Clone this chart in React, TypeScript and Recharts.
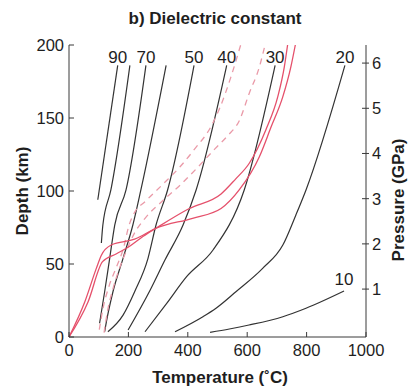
import React from "react";
import { LineChart, Line, XAxis, YAxis } from "recharts";

// ---- axis ticks ----
const tempTicks = [0, 200, 400, 600, 800, 1000];
const depthTicks = [0, 50, 100, 150, 200];
const pressureTicks = [1, 2, 3, 4, 5, 6];
const pressureDomain = [-0.06, 6.4];

// ---- dielectric-constant contours: [Temperature °C, Depth km] ----
const c90 = [[97, 94], [164, 186]];
const c80 = [[109, 64.4], [114, 76.7], [141, 100.7], [205, 186]];
const c70 = [[103, 9.4], [120, 31], [137, 53.9], [154, 76.7], [192, 100.7], [259, 186]];
const c60 = [[120, 3.6], [126, 10.5], [148, 31], [182, 53.9], [215, 76.7], [242, 100.7], [327, 186]];
const c50 = [[131, 3.6], [182, 15], [221, 31], [266, 53.9], [293, 76.7], [332, 100.7], [421, 186]];
const c40 = [[199, 4.8], [273, 32], [323, 52.7], [384, 76.7], [428, 100.7], [531, 186]];
const c30 = [[256, 3.6], [329, 23], [396, 41.3], [485, 59.6], [590, 100.7], [694, 186]];
const c20 = [[357, 3.6], [451, 13.9], [495, 19.7], [562, 31], [652, 47], [720, 63], [764, 83.6], [798, 100.7], [929, 186]];
const c10 = [[475, 3.2], [540, 5.5], [606, 8.2], [720, 13.9], [798, 19.7], [926, 31.5]];

const contourLevels = ["90", "80", "70", "60", "50", "40", "30", "20", "10"];
const labelledLevels = ["90", "70", "50", "40", "30", "20", "10"];

// ---- geotherms (red solid) ----
const geothermA = [[0, 0], [53, 24], [92, 47], [109, 56], [142, 63], [221, 67], [293, 74.5], [416, 81.3], [512, 88], [573, 100.7], [641, 123.5], [680, 143.6], [720, 164.6], [747, 185], [762, 200]];
const geothermB = [[0, 0], [64, 24], [113, 51.6], [160, 57], [203, 62], [250, 69], [293, 74.5], [405, 88], [512, 98], [560, 108], [607, 119], [663, 142], [703, 164.6], [725, 185], [736, 200]];

// ---- geotherms (red dashed) ----
const dashedC = [[102, 5], [115, 20], [135, 35], [160, 48], [185, 62], [200, 75], [220, 85], [256, 92.7], [318, 105], [374, 116.6], [424, 129], [475, 143], [508, 157], [545, 178], [578, 200]];
const dashedD = [[118, 3], [130, 18], [148, 33], [170, 47], [195, 60], [220, 71], [256, 81.3], [312, 92.7], [374, 104], [435, 116.6], [492, 129], [535, 138], [573, 148], [607, 167], [641, 185], [660, 200]];

const contours = [c90, c80, c70, c60, c50, c40, c30, c20, c10];

const toData = (pts: number[][]) => pts.map(([T, D]) => ({ T, D }));

const FONT = "'Liberation Sans', Arial, Helvetica, sans-serif";
const AXIS = "#3a3a3a";
const TEXT = "#1e1e1e";
const PLOT = { left: 69, right: 366, top: 45, bottom: 337 };

function BottomTick(props: any) {
  const { x, payload } = props;
  return (
    <g>
      <line x1={x} x2={x} y1={PLOT.bottom} y2={PLOT.bottom - 5} stroke={AXIS} strokeWidth={1} />
      <text x={x} y={PLOT.bottom + 19} textAnchor="middle" fontSize={16.5} fill={TEXT} fontFamily={FONT}>
        {payload.value}
      </text>
    </g>
  );
}

function LeftTick(props: any) {
  const { y, payload } = props;
  return (
    <g>
      <line x1={PLOT.left} x2={PLOT.left + 5} y1={y} y2={y} stroke={AXIS} strokeWidth={1} />
      <text x={PLOT.left - 5} y={y + 6} textAnchor="end" fontSize={16.5} fill={TEXT} fontFamily={FONT}>
        {payload.value}
      </text>
    </g>
  );
}

function RightTick(props: any) {
  const { y, payload } = props;
  return (
    <g>
      <line x1={PLOT.right - 4} x2={PLOT.right + 3} y1={y} y2={y} stroke={AXIS} strokeWidth={1} />
      <text x={PLOT.right + 6} y={y + 6} textAnchor="start" fontSize={16.5} fill={TEXT} fontFamily={FONT}>
        {payload.value}
      </text>
    </g>
  );
}

const makeLabel = (text: string, idx: number, dy: number) => (p: any) => {
  if (p.index !== idx) return <g key={`l-${text}-${p.index}`} />;
  return (
    <text key={`l-${text}`} x={p.x} y={p.y + dy} textAnchor="middle" fontSize={17} fill={TEXT} fontFamily={FONT}>
      {text}
    </text>
  );
};

export default function App() {
  return (
    <div style={{ position: "absolute", left: 0, top: 0, width: 414, height: 391, background: "#fff" }}>
      <LineChart width={414} height={391} margin={{ top: PLOT.top, right: 0, bottom: 0, left: 0 }}>
        <XAxis
          dataKey="T"
          type="number"
          domain={[0, 1000]}
          ticks={tempTicks}
          interval={0}
          height={391 - PLOT.bottom}
          tickLine={false}
          axisLine={{ stroke: AXIS, strokeWidth: 1 }}
          tick={<BottomTick />}
        />
        <XAxis
          xAxisId="top"
          orientation="top"
          type="number"
          domain={[0, 1000]}
          height={0}
          tick={false}
          tickLine={false}
          axisLine={{ stroke: AXIS, strokeWidth: 1 }}
        />
        <YAxis
          yAxisId="d"
          type="number"
          domain={[0, 200]}
          ticks={depthTicks}
          interval={0}
          width={PLOT.left}
          tickLine={false}
          axisLine={{ stroke: AXIS, strokeWidth: 1 }}
          tick={<LeftTick />}
        />
        <YAxis
          yAxisId="p"
          orientation="right"
          type="number"
          domain={pressureDomain}
          allowDataOverflow
          ticks={pressureTicks}
          interval={0}
          width={414 - PLOT.right}
          tickLine={false}
          axisLine={{ stroke: AXIS, strokeWidth: 1 }}
          tick={<RightTick />}
        />
        {contours.map((c, i) => {
          const lvl = contourLevels[i];
          const labelled = labelledLevels.includes(lvl);
          const isTen = lvl === "10";
          return (
            <Line
              key={`c${lvl}`}
              yAxisId="d"
              data={toData(c)}
              dataKey="D"
              type="monotone"
              stroke="#333333"
              strokeWidth={1.2}
              dot={false}
              activeDot={false}
              isAnimationActive={false}
              label={labelled ? makeLabel(lvl, c.length - 1, isTen ? -6 : -2) : false}
            />
          );
        })}
        <Line yAxisId="d" data={toData(dashedC)} dataKey="D" type="monotone" stroke="#ea9aa8" strokeWidth={1.3} strokeDasharray="6 5" dot={false} activeDot={false} isAnimationActive={false} />
        <Line yAxisId="d" data={toData(dashedD)} dataKey="D" type="monotone" stroke="#ea9aa8" strokeWidth={1.3} strokeDasharray="6 5" dot={false} activeDot={false} isAnimationActive={false} />
        <Line yAxisId="d" data={toData(geothermA)} dataKey="D" type="monotone" stroke="#e5506b" strokeWidth={1.3} dot={false} activeDot={false} isAnimationActive={false} />
        <Line yAxisId="d" data={toData(geothermB)} dataKey="D" type="monotone" stroke="#e5506b" strokeWidth={1.3} dot={false} activeDot={false} isAnimationActive={false} />
      </LineChart>
      <svg width={414} height={391} style={{ position: "absolute", left: 0, top: 0, pointerEvents: "none" }}>
        <text x={215} y={24} textAnchor="middle" fontSize={17} fontWeight="bold" fill={TEXT} fontFamily={FONT}>
          b) Dielectric constant
        </text>
        <text x={220} y={383} textAnchor="middle" fontSize={17} fontWeight="bold" fill={TEXT} fontFamily={FONT}>
          Temperature (˚C)
        </text>
        <text x={0} y={0} transform="translate(28,191) rotate(-90)" textAnchor="middle" fontSize={17} fontWeight="bold" fill={TEXT} fontFamily={FONT}>
          Depth (km)
        </text>
        <text x={0} y={0} transform="translate(404,200) rotate(-90)" textAnchor="middle" fontSize={17} fontWeight="bold" fill={TEXT} fontFamily={FONT}>
          Pressure (GPa)
        </text>
      </svg>
    </div>
  );
}
